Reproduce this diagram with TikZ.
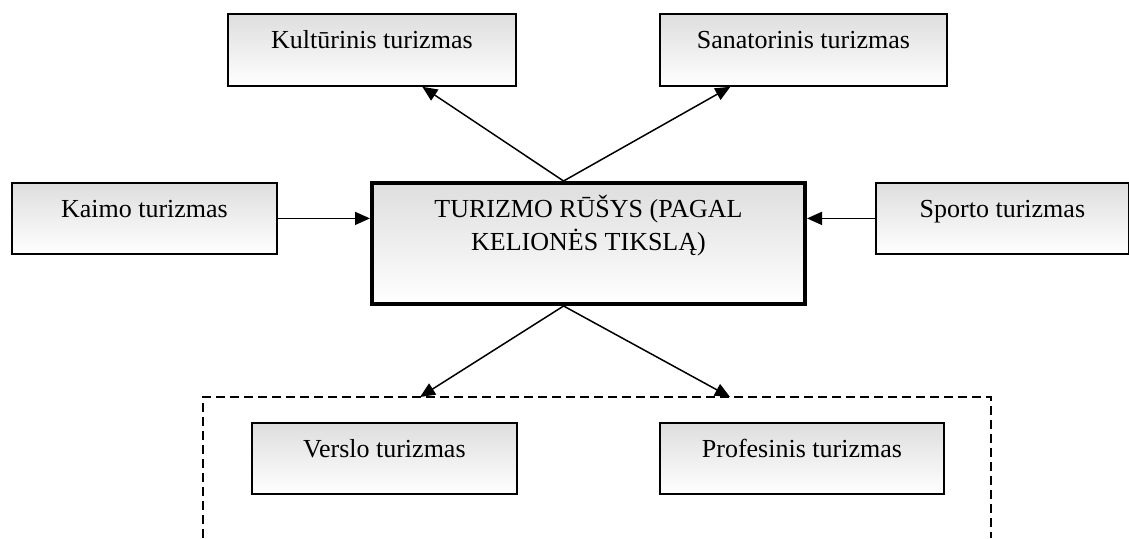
\documentclass[tikz,border=0pt]{standalone}
\usepackage{fontspec}
\setmainfont{Liberation Serif}
\usetikzlibrary{arrows.meta,calc}

\begin{document}
\begin{tikzpicture}[x=1pt,y=-1pt,>={Triangle[length=15pt,width=13pt]},
    box/.style={draw,line width=1.8pt,anchor=north west,inner sep=0pt,
      top color=black!13,bottom color=white,text height=35pt,
      font=\fontsize{26}{33}\selectfont},
    link/.style={->,line width=1.5pt}]
        \useasboundingbox (0,0) rectangle (1129,538);

        \draw[line width=1.5pt,dash pattern=on 9pt off 5pt] (203,538)--(203,397)--(991,397)--(991,538);
        \coordinate (left) at (420,397);
        \coordinate (right) at (730,397);

        \node[box,minimum width=288pt,text depth=37pt] (kult) at (227,13) {Kultūrinis turizmas};
        \node[box,minimum width=287pt,text depth=37pt] (sanat) at (659,13) {Sanatorinis turizmas};
        \node[box,minimum width=265pt,text depth=36pt] (kaimo) at (11,182) {Kaimo turizmas};
        \node[box,minimum width=253pt,text depth=36pt] (sporto) at (875,182) {Sporto turizmas};
        \node[box,line width=4pt,minimum width=433pt,text height=67pt,text depth=54pt,align=center] (rusys) at (370,181)
          {TURIZMO RŪŠYS (PAGAL\\KELIONĖS TIKSLĄ)};
        \node[box,minimum width=265pt,text depth=36pt] (verslo) at (251,422) {Verslo turizmas};
        \node[box,minimum width=284pt,text depth=36pt] (prof) at (659,422) {Profesinis turizmas};

        \draw[link] ($(rusys.north west)!0.443!(rusys.north east)$) -- ($(kult.south west)!0.674!(kult.south east)$);
        \draw[link] ($(rusys.north west)!0.443!(rusys.north east)$) -- ($(sanat.south west)!0.247!(sanat.south east)$);
        \draw[link] (kaimo.east) -- (rusys.west |- kaimo.east);
        \draw[link] (sporto.west) -- (rusys.east |- sporto.west);
        \draw[link] ($(rusys.south west)!0.443!(rusys.south east)$) -- (left);
        \draw[link] ($(rusys.south west)!0.443!(rusys.south east)$) -- (right);
      \end{tikzpicture}
\end{document}
